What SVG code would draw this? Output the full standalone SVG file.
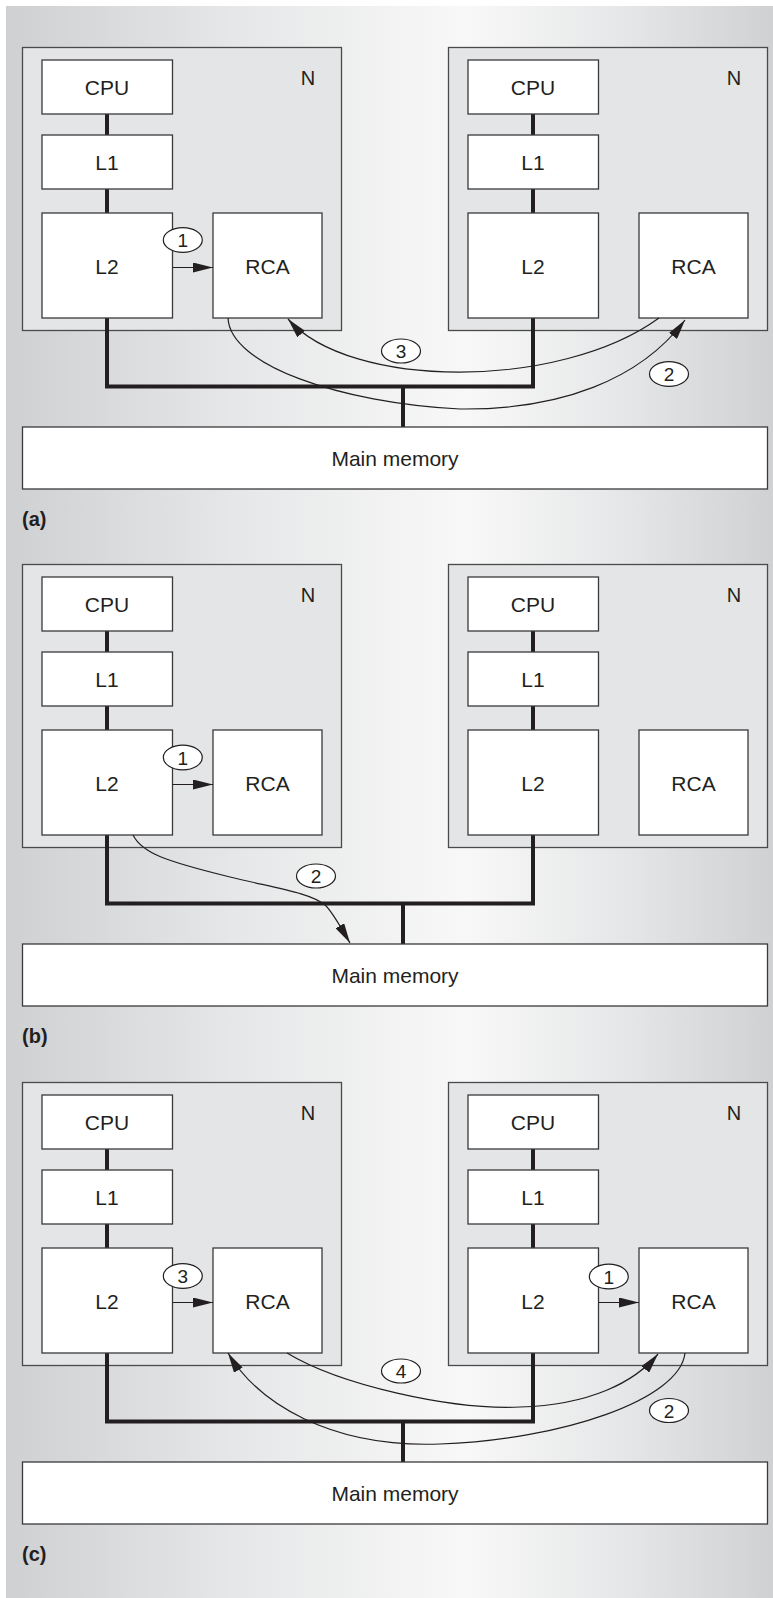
<svg xmlns="http://www.w3.org/2000/svg" width="773" height="1598" viewBox="0 0 773 1598">
  <defs>
    <linearGradient id="bg" x1="0" y1="0" x2="1" y2="0">
      <stop offset="0" stop-color="#cfd0d2"/>
      <stop offset="0.3" stop-color="#e6e7e8"/>
      <stop offset="0.6" stop-color="#f8f8f8"/>
      <stop offset="0.8" stop-color="#e6e7e8"/>
      <stop offset="1" stop-color="#d0d1d3"/>
    </linearGradient>
    <marker id="ah" viewBox="0 0 20 10" refX="20" refY="5" markerWidth="20" markerHeight="10" markerUnits="userSpaceOnUse" orient="auto">
      <path d="M0,0 L20,5 L0,10 z" fill="#231f20"/>
    </marker>
    <style>
      .node { fill: #e4e5e6; stroke: #4a4a4c; stroke-width: 1.3; }
      .box { fill: #ffffff; stroke: #3a3a3c; stroke-width: 1.3; }
      .bus { fill: none; stroke: #231f20; stroke-width: 4; stroke-linejoin: miter; }
      .arrow { fill: none; stroke: #231f20; stroke-width: 1.2; marker-end: url(#ah); }
      .tag { fill: #ffffff; stroke: #231f20; stroke-width: 1.2; }
      text { font-family: "Liberation Sans", Arial, Helvetica, sans-serif; fill: #231f20; }
      .lbl { font-size: 21px; text-anchor: middle; }
      .n { font-size: 20px; text-anchor: middle; }
      .num { font-size: 19px; text-anchor: middle; }
      .cap { font-size: 20px; font-weight: bold; }
    </style>
  </defs>

  <!-- shaded backdrop -->
  <rect x="6" y="6" width="767" height="1592" fill="url(#bg)"/>

  <!-- ===== (a) ===== -->
  <g id="panel-a">
    <g id="a-node-left"><rect class="node" x="22.5" y="47.5" width="319" height="283"/><text class="n" x="308" y="85">N</text></g>
    <g id="a-node-right"><rect class="node" x="448.5" y="47.5" width="319" height="283"/><text class="n" x="734" y="85">N</text></g>
    <g id="a-links">
      <path class="bus" d="M107,114 V135 M107,189 V213 M533,114 V135 M533,189 V213"/>
      <path class="bus" d="M107,318 V386.5 H533 V318 M403,386.5 V427"/>
    </g>
    <g id="a-cpu-left"><rect class="box" x="42" y="60" width="130.5" height="54"/><text class="lbl" x="107" y="94.5">CPU</text></g>
    <g id="a-l1-left"><rect class="box" x="42" y="135" width="130.5" height="54"/><text class="lbl" x="107" y="169.5">L1</text></g>
    <g id="a-l2-left"><rect class="box" x="42" y="213" width="130.5" height="105"/><text class="lbl" x="107" y="273.5">L2</text></g>
    <g id="a-rca-left"><rect class="box" x="213" y="213" width="109" height="105"/><text class="lbl" x="267.5" y="273.5">RCA</text></g>
    <g id="a-cpu-right"><rect class="box" x="468" y="60" width="130.5" height="54"/><text class="lbl" x="533" y="94.5">CPU</text></g>
    <g id="a-l1-right"><rect class="box" x="468" y="135" width="130.5" height="54"/><text class="lbl" x="533" y="169.5">L1</text></g>
    <g id="a-l2-right"><rect class="box" x="468" y="213" width="130.5" height="105"/><text class="lbl" x="533" y="273.5">L2</text></g>
    <g id="a-rca-right"><rect class="box" x="639" y="213" width="109" height="105"/><text class="lbl" x="693.5" y="273.5">RCA</text></g>
    <g id="a-memory"><rect class="box" x="22.5" y="427" width="745" height="62"/><text class="lbl" x="395" y="465.5">Main memory</text></g>
    <g id="a-flows">
      <path class="arrow" d="M172.5,267.5 H213"/>
      <path class="arrow" d="M659,318 C560,390 350,390 288,319"/>
      <path class="arrow" d="M228,318 C230,365 340,403 460,409 C560,410 640,380 685,320"/>
      <ellipse class="tag" cx="182.8" cy="240" rx="19.5" ry="12.3"/><text class="num" x="182.8" y="247">1</text>
      <ellipse class="tag" cx="401" cy="351" rx="19.5" ry="12"/><text class="num" x="401" y="358">3</text>
      <ellipse class="tag" cx="669" cy="374" rx="19.5" ry="12.3"/><text class="num" x="669" y="381">2</text>
    </g>
    <text class="cap" x="22" y="526">(a)</text>
  </g>

  <!-- ===== (b) ===== -->
  <g id="panel-b" transform="translate(0,517)">
    <g id="b-node-left"><rect class="node" x="22.5" y="47.5" width="319" height="283"/><text class="n" x="308" y="85">N</text></g>
    <g id="b-node-right"><rect class="node" x="448.5" y="47.5" width="319" height="283"/><text class="n" x="734" y="85">N</text></g>
    <g id="b-links">
      <path class="bus" d="M107,114 V135 M107,189 V213 M533,114 V135 M533,189 V213"/>
      <path class="bus" d="M107,318 V386.5 H533 V318 M403,386.5 V427"/>
    </g>
    <g id="b-cpu-left"><rect class="box" x="42" y="60" width="130.5" height="54"/><text class="lbl" x="107" y="94.5">CPU</text></g>
    <g id="b-l1-left"><rect class="box" x="42" y="135" width="130.5" height="54"/><text class="lbl" x="107" y="169.5">L1</text></g>
    <g id="b-l2-left"><rect class="box" x="42" y="213" width="130.5" height="105"/><text class="lbl" x="107" y="273.5">L2</text></g>
    <g id="b-rca-left"><rect class="box" x="213" y="213" width="109" height="105"/><text class="lbl" x="267.5" y="273.5">RCA</text></g>
    <g id="b-cpu-right"><rect class="box" x="468" y="60" width="130.5" height="54"/><text class="lbl" x="533" y="94.5">CPU</text></g>
    <g id="b-l1-right"><rect class="box" x="468" y="135" width="130.5" height="54"/><text class="lbl" x="533" y="169.5">L1</text></g>
    <g id="b-l2-right"><rect class="box" x="468" y="213" width="130.5" height="105"/><text class="lbl" x="533" y="273.5">L2</text></g>
    <g id="b-rca-right"><rect class="box" x="639" y="213" width="109" height="105"/><text class="lbl" x="693.5" y="273.5">RCA</text></g>
    <g id="b-memory"><rect class="box" x="22.5" y="427" width="745" height="62"/><text class="lbl" x="395" y="465.5">Main memory</text></g>
    <g id="b-flows">
      <path class="arrow" d="M172.5,267.5 H213"/>
      <path class="arrow" d="M133,318 C142,336 165,344 230,360 C280,372 310,376 325,388 C332,394 340,409 350,426"/>
      <ellipse class="tag" cx="182.8" cy="240.5" rx="19.5" ry="12.3"/><text class="num" x="182.8" y="247.5">1</text>
      <ellipse class="tag" cx="316" cy="359" rx="19.5" ry="12"/><text class="num" x="316" y="366">2</text>
    </g>
    <text class="cap" x="22" y="526">(b)</text>
  </g>

  <!-- ===== (c) ===== -->
  <g id="panel-c" transform="translate(0,1035)">
    <g id="c-node-left"><rect class="node" x="22.5" y="47.5" width="319" height="283"/><text class="n" x="308" y="85">N</text></g>
    <g id="c-node-right"><rect class="node" x="448.5" y="47.5" width="319" height="283"/><text class="n" x="734" y="85">N</text></g>
    <g id="c-links">
      <path class="bus" d="M107,114 V135 M107,189 V213 M533,114 V135 M533,189 V213"/>
      <path class="bus" d="M107,318 V386.5 H533 V318 M403,386.5 V427"/>
    </g>
    <g id="c-cpu-left"><rect class="box" x="42" y="60" width="130.5" height="54"/><text class="lbl" x="107" y="94.5">CPU</text></g>
    <g id="c-l1-left"><rect class="box" x="42" y="135" width="130.5" height="54"/><text class="lbl" x="107" y="169.5">L1</text></g>
    <g id="c-l2-left"><rect class="box" x="42" y="213" width="130.5" height="105"/><text class="lbl" x="107" y="273.5">L2</text></g>
    <g id="c-rca-left"><rect class="box" x="213" y="213" width="109" height="105"/><text class="lbl" x="267.5" y="273.5">RCA</text></g>
    <g id="c-cpu-right"><rect class="box" x="468" y="60" width="130.5" height="54"/><text class="lbl" x="533" y="94.5">CPU</text></g>
    <g id="c-l1-right"><rect class="box" x="468" y="135" width="130.5" height="54"/><text class="lbl" x="533" y="169.5">L1</text></g>
    <g id="c-l2-right"><rect class="box" x="468" y="213" width="130.5" height="105"/><text class="lbl" x="533" y="273.5">L2</text></g>
    <g id="c-rca-right"><rect class="box" x="639" y="213" width="109" height="105"/><text class="lbl" x="693.5" y="273.5">RCA</text></g>
    <g id="c-memory"><rect class="box" x="22.5" y="427" width="745" height="62"/><text class="lbl" x="395" y="465.5">Main memory</text></g>
    <g id="c-flows">
      <path class="arrow" d="M172.5,267.5 H213"/>
      <path class="arrow" d="M598.5,267.5 H639"/>
      <path class="arrow" d="M287,318 C340,350 450,375 520,372 C590,370 635,347 658,319"/>
      <path class="arrow" d="M685,318 C680,365 560,405 440,409 C330,413 258,368 228,318"/>
      <ellipse class="tag" cx="182.8" cy="241" rx="19.5" ry="12.3"/><text class="num" x="182.8" y="248">3</text>
      <ellipse class="tag" cx="608.8" cy="241.5" rx="19.5" ry="12.3"/><text class="num" x="608.8" y="248.5">1</text>
      <ellipse class="tag" cx="401" cy="336" rx="19.5" ry="12"/><text class="num" x="401" y="343">4</text>
      <ellipse class="tag" cx="669" cy="375.5" rx="19.5" ry="12"/><text class="num" x="669" y="382.5">2</text>
    </g>
    <text class="cap" x="22" y="526">(c)</text>
  </g>
</svg>
